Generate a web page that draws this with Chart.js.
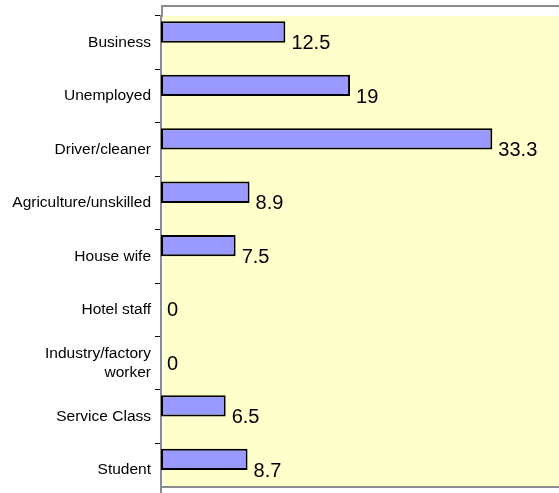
<!DOCTYPE html>
<html>
<head>
<meta charset="utf-8">
<script src="https://cdn.jsdelivr.net/npm/chart.js@4"></script>
<style>
  html, body { margin: 0; padding: 0; background: #fff; overflow: hidden; }
  #wrap { position: relative; width: 559px; height: 510px; }
</style>
</head>
<body>
<div id="wrap"><canvas id="bar-chart"></canvas></div>
<script>
var categories = [
  'Business', 'Unemployed', 'Driver/cleaner', 'Agriculture/unskilled',
  'House wife', 'Hotel staff', ['Industry/factory', 'worker'],
  'Service Class', 'Student'
];
var percentValues = [12.5, 19, 33.3, 8.9, 7.5, 0, 0, 6.5, 8.7];
// empty second series, keeps the bars in the upper half of each row
var blankValues = [null, null, null, null, null, null, null, null, null];

var FONT = "'Liberation Sans', Arial, sans-serif";

// yellow plot area and the grey frame lines
var plotBackground = {
  id: 'plotBackground',
  beforeDatasetsDraw: function(chart) {
    var ctx = chart.ctx, a = chart.chartArea;
    var yScale = chart.scales.y;
    var rowH = yScale.getPixelForValue(1) - yScale.getPixelForValue(0);
    var bottom = Math.round(yScale.getPixelForValue(categories.length - 1) + rowH * 0.3);
    var left = Math.round(a.left);
    ctx.save();
    ctx.fillStyle = '#FFFFCC';
    ctx.fillRect(left + 2, a.top, a.right - left, bottom - a.top);
    ctx.fillStyle = '#8c8c8c';
    ctx.fillRect(left, a.top - 11, a.right - left, 2);
    ctx.fillRect(left, bottom, a.right - left, 2);
    ctx.fillRect(left, a.top - 11, 2, 12);
    ctx.restore();
  }
};

// value labels right of each bar
var valueLabels = {
  id: 'valueLabels',
  afterDatasetsDraw: function(chart) {
    var ctx = chart.ctx;
    var meta = chart.getDatasetMeta(0);
    var yScale = chart.scales.y;
    ctx.save();
    ctx.font = '20px ' + FONT;
    ctx.fillStyle = '#000';
    ctx.textAlign = 'left';
    ctx.textBaseline = 'middle';
    meta.data.forEach(function(bar, i) {
      var v = chart.data.datasets[0].data[i];
      ctx.fillText(String(v), bar.x + 6, yScale.getPixelForValue(i) + 1);
    });
    ctx.restore();
  }
};

var barChart = new Chart(
  document.getElementById('bar-chart').getContext('2d'),
  {
    type: 'bar',
    data: {
      labels: categories,
      datasets: [{
        data: percentValues,
        backgroundColor: '#9999FF',
        borderColor: '#000000',
        borderWidth: 2,
        borderSkipped: false,
        barPercentage: 1.0,
        categoryPercentage: 0.8
      }, {
        data: blankValues,
        backgroundColor: 'rgba(0,0,0,0)',
        borderWidth: 0,
        barPercentage: 1.0,
        categoryPercentage: 0.8
      }]
    },
    options: {
      indexAxis: 'y',
      responsive: true,
      maintainAspectRatio: false,
      animation: false,
      layout: { padding: { top: 16, right: 0, bottom: 0, left: 0 } },
      plugins: {
        legend: { display: false },
        tooltip: { enabled: false }
      },
      scales: {
        x: {
          display: false,
          min: 0,
          max: 40
        },
        y: {
          afterFit: function(scale) { scale.width = 161; },
          grid: {
            offset: true,
            drawOnChartArea: false,
            color: '#000000',
            tickLength: 6
          },
          border: { color: '#8c8c8c', width: 2 },
          ticks: {
            color: '#000000',
            padding: 4,
            font: { family: FONT, size: 15.5, lineHeight: 1.2 }
          }
        }
      }
    },
    plugins: [plotBackground, valueLabels]
  }
);
</script>
</body>
</html>
